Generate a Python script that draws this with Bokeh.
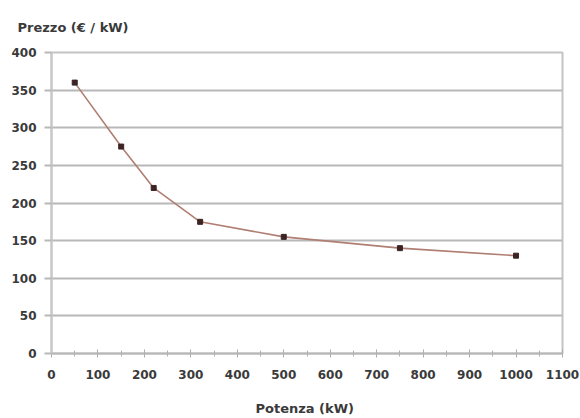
from bokeh.plotting import figure
from bokeh.models import Range1d, SingleIntervalTicker
from bokeh.embed import file_html
from bokeh.resources import INLINE

potenza = [50, 150, 220, 320, 500, 750, 1000]
prezzo = [360, 275, 220, 175, 155, 140, 130]
y_ticks = [0, 50, 100, 150, 200, 250, 300, 350, 400]

title_text = "Prezzo (€ / kW)"
x_title = "Potenza  (kW)"

FONT = "DejaVu Sans"
TXT = "#3a3a3a"
GRID = "#b8b8b8"

p = figure(width=580, height=418, output_backend="svg", toolbar_location=None,
           x_range=Range1d(0, 1100), y_range=Range1d(0, 400),
           min_border_left=51, min_border_right=18, min_border_top=52, min_border_bottom=65)
p.background_fill_color = "white"
p.border_fill_color = "white"
p.outline_line_color = "#c4c4c4"
p.outline_line_width = 2

p.title.text = title_text
p.title.align = "left"
p.title.offset = -34
p.title.standoff = 35
p.title.text_font = FONT
p.title.text_font_style = "bold"
p.title.text_font_size = "13px"
p.title.text_color = TXT

p.xgrid.visible = False
p.ygrid.ticker = y_ticks
p.ygrid.grid_line_color = GRID
p.ygrid.grid_line_width = 2

p.yaxis.ticker = y_ticks
p.yaxis.axis_line_color = "#c8c8c8"
p.yaxis.axis_line_width = 2
p.yaxis.major_tick_line_color = GRID
p.yaxis.major_tick_line_width = 2
p.yaxis.major_tick_out = 7
p.yaxis.major_tick_in = 0
p.yaxis.minor_tick_line_color = None
p.yaxis.major_label_standoff = 8
p.yaxis.major_label_text_font = FONT
p.yaxis.major_label_text_font_style = "bold"
p.yaxis.major_label_text_font_size = "12px"
p.yaxis.major_label_text_color = TXT

p.xaxis.ticker = SingleIntervalTicker(interval=100, num_minor_ticks=2)
p.xaxis.axis_line_color = GRID
p.xaxis.axis_line_width = 2
p.xaxis.major_tick_line_color = "#a8a8a8"
p.xaxis.major_tick_in = 4
p.xaxis.major_tick_out = 4
p.xaxis.minor_tick_line_color = "#b0b0b0"
p.xaxis.minor_tick_in = 3
p.xaxis.minor_tick_out = 3
p.xaxis.major_label_standoff = 12
p.xaxis.major_label_text_font = FONT
p.xaxis.major_label_text_font_style = "bold"
p.xaxis.major_label_text_font_size = "12px"
p.xaxis.major_label_text_color = TXT
p.xaxis.axis_label = x_title
p.xaxis.axis_label_standoff = 19
p.xaxis.axis_label_text_font = FONT
p.xaxis.axis_label_text_font_style = "bold"
p.xaxis.axis_label_text_font_size = "13px"
p.xaxis.axis_label_text_color = TXT

p.line(potenza, prezzo, line_color="#b07e72", line_width=1.6)
p.scatter(potenza, prezzo, marker="square", size=5, fill_color="#3c2424", line_color="#3c2424")

open("out.html", "w").write(file_html(p, INLINE))
